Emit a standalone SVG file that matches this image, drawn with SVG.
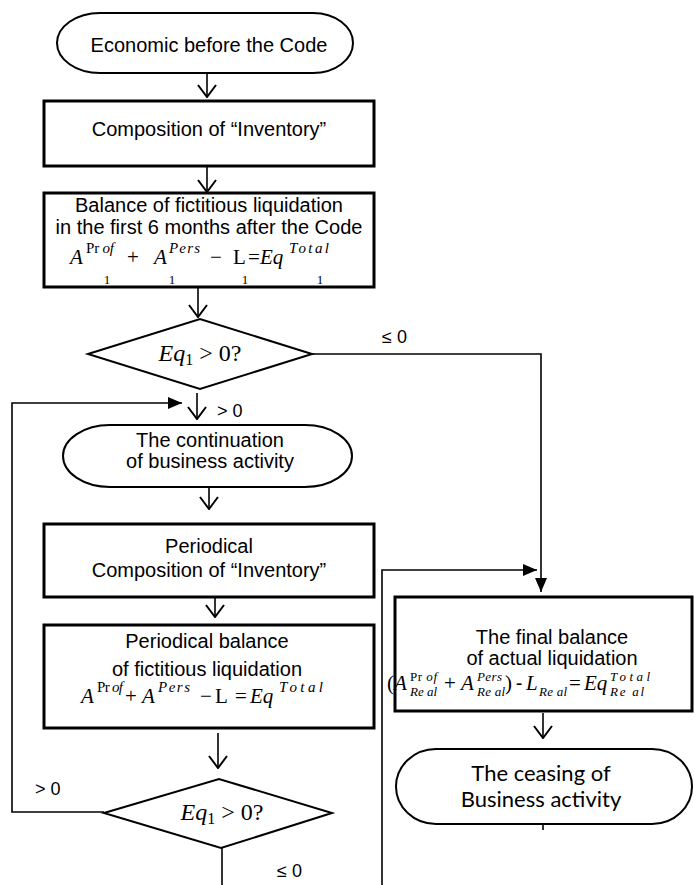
<svg xmlns="http://www.w3.org/2000/svg" width="694" height="885" viewBox="0 0 694 885">
<style>
.t{font-family:"Liberation Sans",Arial,sans-serif;font-size:20px;text-anchor:middle;fill:#000}
.c{font-family:Lato,"Open Sans",sans-serif;font-size:22px;text-anchor:middle;fill:#000}
.m{font-family:"Liberation Serif","Times New Roman",serif;font-style:italic;font-size:21px;fill:#000}
.u{font-family:"Liberation Serif","Times New Roman",serif;font-size:21px;fill:#000}
.s{font-family:"Liberation Serif","Times New Roman",serif;font-style:italic;font-size:15px;fill:#000}
.s2{font-family:"Liberation Serif","Times New Roman",serif;font-style:italic;font-size:13px;fill:#000}
.r{font-style:normal}
.sb{font-family:"Liberation Serif","Times New Roman",serif;font-size:13px;text-anchor:middle;fill:#000}
.lb{font-family:"Liberation Sans",Arial,sans-serif;font-size:18px;fill:#000}
.box{fill:#fff;stroke:#000;stroke-width:3}
.term{fill:#fff;stroke:#000;stroke-width:2}
.dia{fill:#fff;stroke:#000;stroke-width:2}
.ln{fill:none;stroke:#000;stroke-width:1.6}
.dq{font-family:"Liberation Serif","Times New Roman",serif;font-size:24px;text-anchor:middle;fill:#000}
</style>
<defs>
<marker id="open" viewBox="0 0 14 20" refX="13" refY="10" markerWidth="14" markerHeight="20" markerUnits="userSpaceOnUse" orient="auto">
<path d="M1,1 L13,10 L1,19" fill="none" stroke="#000" stroke-width="2"/>
</marker>
<marker id="fill" viewBox="0 0 14 12" refX="14" refY="6" markerWidth="14" markerHeight="12" markerUnits="userSpaceOnUse" orient="auto">
<path d="M0,0 L14,6 L0,12 Z" fill="#000"/>
</marker>
<clipPath id="clip4"><rect x="45" y="626" width="328" height="100.5"/></clipPath>
</defs>

<g id="connectors">
<path class="ln" d="M207,73 V97" marker-end="url(#open)"/>
<path class="ln" d="M207,166 V192" marker-end="url(#open)"/>
<path class="ln" d="M198,288 V317" marker-end="url(#open)"/>
<path class="ln" d="M312,354 H541 V592" marker-end="url(#fill)"/>
<path class="ln" d="M197,393 V419" marker-end="url(#open)"/>
<path class="ln" d="M104,812 H12 V403 H182" marker-end="url(#fill)"/>
<path class="ln" d="M209,487 V509" marker-end="url(#open)"/>
<path class="ln" d="M215,597 V617" marker-end="url(#open)"/>
<path class="ln" d="M218,733 V768" marker-end="url(#open)"/>
<path class="ln" d="M222,848 V885"/>
<path class="ln" d="M382,885 V570 H537" marker-end="url(#fill)"/>
<path class="ln" d="M543,713 V738" marker-end="url(#open)"/>
<path class="ln" d="M543,824 V830"/>
<text class="lb" x="382" y="343" font-size="15">≤ 0</text>
<text class="lb" x="217" y="417">&gt; 0</text>
<text class="lb" x="35" y="795">&gt; 0</text>
<text class="lb" x="277" y="877">≤ 0</text>
</g>

<g id="start">
<path class="term" d="M100,13 H313 A40,30 0 0 1 313,73 H100 A43,30 0 0 1 100,13 Z"/>
<text class="t" x="209" y="52">Economic before the Code</text>
</g>

<g id="inventory">
<rect class="box" x="44" y="101" width="330" height="65"/>
<text class="t" x="209" y="136">Composition of “Inventory”</text>
</g>

<g id="balance1">
<rect class="box" x="44" y="193" width="330" height="94"/>
<text class="t" x="209" y="212">Balance of fictitious liquidation</text>
<text class="t" x="209" y="234">in the first 6 months after the Code</text>
<text class="m" x="70" y="264">A</text>
<text class="s" x="86" y="253" textLength="28"><tspan class="r">Pr</tspan> of</text>
<text class="u" x="127" y="264">+</text>
<text class="m" x="154" y="264">A</text>
<text class="s" x="169" y="253" textLength="31">Pers</text>
<text class="u" x="210" y="264">−</text>
<text class="u" x="233" y="264" font-size="22">L</text>
<text class="u" x="248" y="264">=</text>
<text class="m" x="260" y="264" font-size="22">Eq</text>
<text class="s" x="289" y="253" textLength="40">Total</text>
<text class="sb" y="284"><tspan x="107">1</tspan><tspan x="172">1</tspan><tspan x="245">1</tspan><tspan x="320">1</tspan></text>
</g>

<g id="decision1">
<polygon class="dia" points="88,354 200,319 312,354 200,389"/>
<text class="dq" x="200" y="361"><tspan font-style="italic">Eq</tspan><tspan font-size="16" dy="4">1</tspan><tspan dy="-4"> &gt; 0?</tspan></text>
</g>

<g id="continuation">
<path class="term" d="M110,425 H305 A47,31 0 0 1 305,487 H110 A47,31 0 0 1 110,425 Z"/>
<text class="t" x="210" y="447" font-size="21">The continuation</text>
<text class="t" x="210" y="468" font-size="21">of business activity</text>
</g>

<g id="periodical-inventory">
<rect class="box" x="44" y="524" width="330" height="73"/>
<text class="t" x="209" y="553">Periodical</text>
<text class="t" x="209" y="577">Composition of “Inventory”</text>
</g>

<g id="balance2">
<rect class="box" x="44" y="625" width="330" height="103"/>
<text class="t" x="207" y="648" font-size="21">Periodical balance</text>
<text class="t" x="207" y="676" font-size="21">of fictitious liquidation</text>
<text class="m" x="81" y="703">A</text>
<text class="s" x="97" y="692" textLength="26"><tspan class="r">Pr</tspan> of</text>
<text class="u" x="125" y="703">+</text>
<text class="m" x="142" y="703">A</text>
<text class="s" x="158" y="692" textLength="32">Pers</text>
<text class="u" x="200" y="703">−</text>
<text class="u" x="215" y="703" font-size="22">L</text>
<text class="u" x="235" y="703">=</text>
<text class="m" x="250" y="703" font-size="22">Eq</text>
<text class="s" x="279" y="692" textLength="44">Total</text>
<text class="sb" y="735" clip-path="url(#clip4)"><tspan x="97">1</tspan><tspan x="173">1</tspan><tspan x="233">1</tspan><tspan x="303">1</tspan></text>
</g>

<g id="decision2">
<polygon class="dia" points="104,813 219,779 332,813 221,848"/>
<text class="dq" x="222" y="820"><tspan font-style="italic">Eq</tspan><tspan font-size="16" dy="4">1</tspan><tspan dy="-4"> &gt; 0?</tspan></text>
</g>

<g id="final-balance">
<rect class="box" x="395" y="597" width="297" height="114"/>
<text class="t" x="552" y="644" font-size="19.5">The final balance</text>
<text class="t" x="552" y="665" font-size="19.5">of actual liquidation</text>
<text class="u" x="387" y="690" font-size="20">(</text>
<text class="m" x="394" y="690" font-size="20">A</text>
<text class="s2" x="410" y="681" textLength="27"><tspan class="r">Pr</tspan> of</text>
<text class="s2" x="410" y="696" textLength="27">Re al</text>
<text class="u" x="444" y="690" font-size="20">+</text>
<text class="m" x="461" y="690" font-size="20">A</text>
<text class="s2" x="477" y="681" textLength="25">Pers</text>
<text class="s2" x="477" y="696" textLength="28">Re al</text>
<text class="u" x="505" y="690" font-size="20">)</text>
<text class="t" x="519" y="690" font-size="20">-</text>
<text class="m" x="526" y="690" font-size="20">L</text>
<text class="s2" x="539" y="696" textLength="28">Re al</text>
<text class="u" x="569" y="690" font-size="20">=</text>
<text class="m" x="584" y="690" font-size="21">Eq</text>
<text class="s2" x="610" y="681" textLength="40">Total</text>
<text class="s2" x="610" y="696" textLength="34">Re al</text>
</g>

<g id="ceasing">
<path class="term" d="M436,749 H652 A40,37.5 0 0 1 652,824 H436 A40,37.5 0 0 1 436,749 Z"/>
<text class="c" x="541" y="781">The ceasing of</text>
<text class="c" x="541" y="807">Business activity</text>
</g>
</svg>
